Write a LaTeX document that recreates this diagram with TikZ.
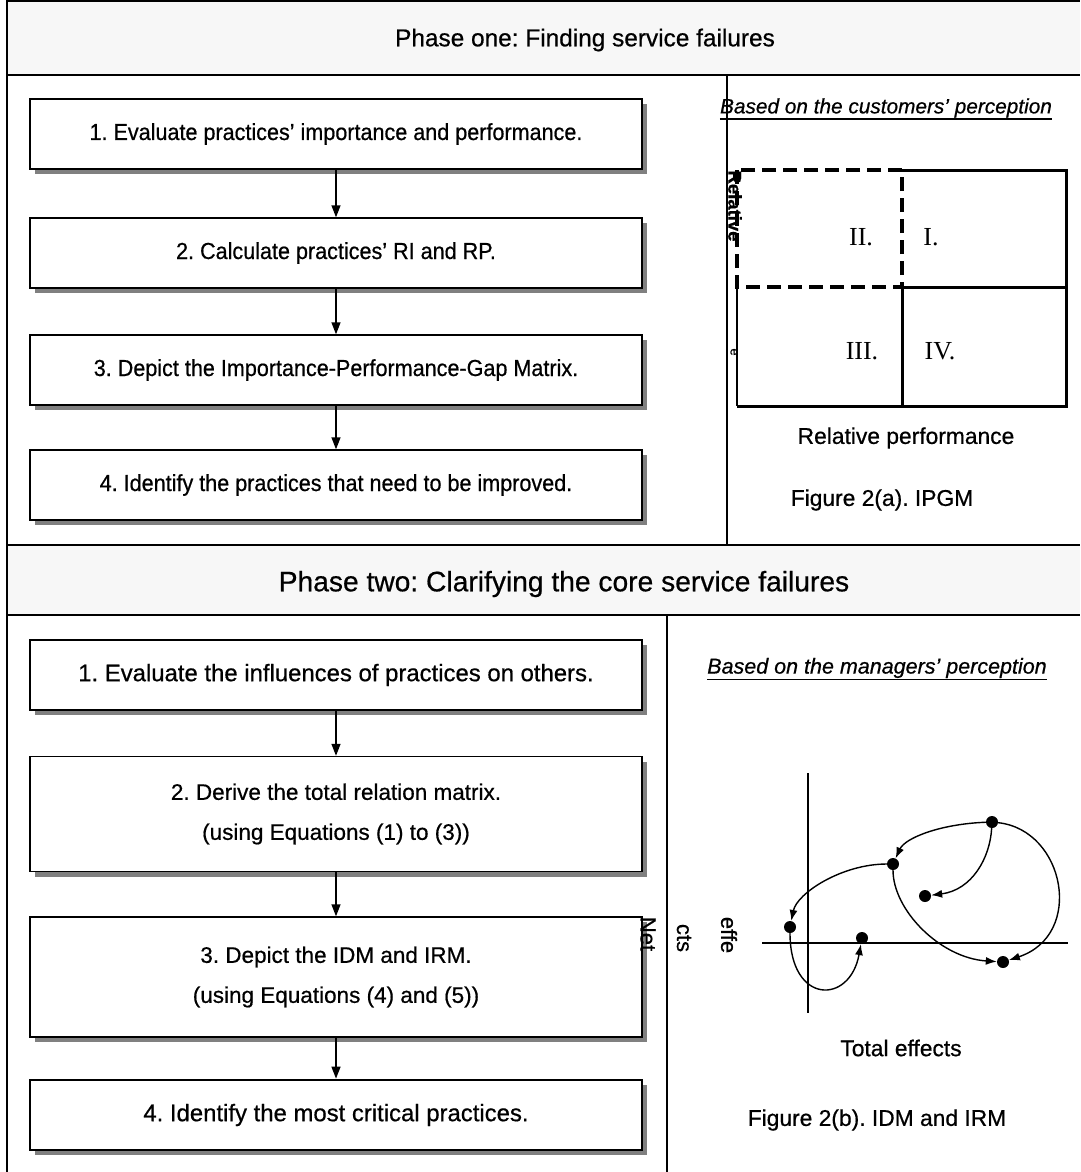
\documentclass[tikz,border=0pt]{standalone}
\usepackage{fontspec}
\setmainfont{Liberation Sans}[FakeBold=0.6]
\newfontfamily\nsans{Liberation Sans}[FakeBold=0.6,FakeStretch=0.93]
\newfontfamily\tnr{Liberation Serif}
\usetikzlibrary{arrows.meta,shadows}
\frenchspacing
\begin{document}
\begin{tikzpicture}[x=1pt,y=-1pt,
  frame/.style={line width=2pt},
  stepbox/.style={draw=black, line width=1.4pt, fill=white, inner sep=0pt, align=center,
    minimum width=612pt,
    drop shadow={shadow xshift=5pt, shadow yshift=-5pt, fill=black!50, opacity=1}},
  thickbox/.style={stepbox, line width=2.8pt},
  onefont/.style={font=\nsans\fontsize{23.2}{26}\selectfont},
  twofont/.style={font=\fontsize{22.5}{40}\selectfont},
  bigfont/.style={font=\fontsize{23.9}{28}\selectfont},
  flow/.style={-{Triangle[length=12pt,width=9pt]}, line width=1.4pt},
  link/.style={-{Latex[length=11pt,width=8pt]}, line width=1.4pt},
  dot/.style={circle, fill=black, inner sep=0pt, minimum size=12pt},
  label/.style={font=\fontsize{22.8}{26}\selectfont},
  quad/.style={font=\tnr\fontsize{26}{28}\selectfont},
  rot/.style={rotate=-90, font=\fontsize{22}{24}\selectfont}
]
\useasboundingbox (0,0) rectangle (1080,1172);
\fill[white] (0,0) rectangle (1080,1172);

% headers
\fill[black!3] (7,1) rectangle (1080,75);
\fill[black!3] (7,545) rectangle (1080,615);
\draw[frame] (7,1) -- (1080,1);
\draw[frame] (7,0) -- (7,1172);
\draw[frame] (7,75) -- (1080,75);
\draw[line width=2.5pt] (7,545) -- (727,545);
\draw[line width=1.6pt] (727,545) -- (1080,545);
\draw[line width=1.6pt] (7,615) -- (1080,615);
\draw[frame] (727,75) -- (727,545);
\draw[line width=1.6pt] (667,615) -- (667,1172);

\node[font=\fontsize{24.4}{28}\selectfont] (h1) at (585,40) {Phase one: Finding service failures};
\node[font=\fontsize{28.2}{32}\selectfont] (h2) at (564,584) {Phase two: Clarifying the core service failures};

% phase one steps
\node[stepbox, onefont, minimum height=70pt] (a1) at (336,134) {1. Evaluate practices’ importance and performance.};
\node[stepbox, onefont, minimum height=70pt] (a2) at (336,253) {2. Calculate practices’ RI and RP.};
\node[stepbox, onefont, minimum height=70pt] (a3) at (336,370) {3. Depict the Importance-Performance-Gap Matrix.};
\node[stepbox, onefont, minimum height=70pt] (a4) at (336,485) {4. Identify the practices that need to be improved.};
\draw[flow] (a1.south) -- (a2.north);
\draw[flow] (a2.south) -- (a3.north);
\draw[flow] (a3.south) -- (a4.north);

% phase two steps
\node[thickbox, bigfont, minimum height=70pt] (b1) at (336,675) {1. Evaluate the influences of practices on others.};
\node[stepbox, twofont, minimum height=115pt] (b2) at (336,814) {2. Derive the total relation matrix.\\(using Equations (1) to (3))};
\node[stepbox, twofont, minimum height=120pt] (b3) at (336,977) {3. Depict the IDM and IRM.\\(using Equations (4) and (5))};
\node[thickbox, bigfont, minimum height=70pt] (b4) at (336,1115) {4. Identify the most critical practices.};
\draw[flow] (b1.south) -- (b2.north);
\draw[flow] (b2.south) -- (b3.north);
\draw[flow] (b3.south) -- (b4.north);

% IPGM
\node[font=\itshape\fontsize{20.8}{24}\selectfont, inner sep=0pt] (cust) at (886,108) {Based on the customers’ perception};
\draw[line width=1.8pt] ([yshift=-6pt]cust.base west) -- ([yshift=-6pt]cust.base east);
\node[rotate=-90, font=\bfseries\fontsize{18.5}{20}\selectfont] (ri) at (735,206) {Relative};
\node[rotate=-90, font=\fontsize{13}{14}\selectfont] (ri2) at (734,352) {e};
\draw[line width=3pt] (902,170) -- (1066,170) -- (1066,406) -- (737,406);
\draw[line width=3pt] (902,287) -- (1066,287);
\draw[line width=3pt] (902,287) -- (902,406);
\draw[line width=1.5pt] (737,287) -- (737,406);
\draw[line width=4.5pt, dash pattern=on 14pt off 7pt] (737,170) rectangle (902,287);
\node[quad] (q2) at (861,237) {II.};
\node[quad] (q1) at (931,237) {I.};
\node[quad] (q3) at (862,351) {III.};
\node[quad] (q4) at (940,351) {IV.};
\node[label] (rp) at (906,438) {Relative performance};
\node[label] (fa) at (882,500) {Figure 2(a). IPGM};

% IDM / IRM
\node[font=\itshape\fontsize{21.5}{24}\selectfont, inner sep=0pt] (mgr) at (877,668) {Based on the managers’ perception};
\draw[line width=1.8pt] ([yshift=-6pt]mgr.base west) -- ([yshift=-6pt]mgr.base east);
\draw[line width=1.4pt] (808,773) -- (808,1013);
\draw[line width=1.4pt] (762,943) -- (1068,943);
\node[dot] (pA) at (992,822) {};
\node[dot] (pB) at (893,864) {};
\node[dot] (pC) at (925,896) {};
\node[dot] (pD) at (790,927) {};
\node[dot] (pE) at (862,938) {};
\node[dot] (pF) at (1003,962) {};
\draw[link] (pA) .. controls (940,824) and (905,838) .. (pB);
\draw[link] (pA) .. controls (990,858) and (972,890) .. (pC);
\draw[link] (pA) .. controls (1065,830) and (1085,935) .. (pF);
\draw[link] (pB) .. controls (842,864) and (797,893) .. (pD);
\draw[link] (pB) .. controls (893,910) and (940,958) .. (pF);
\draw[link] (pD) .. controls (790,1005) and (850,1005) .. (pE);
\node[rot] (ne1) at (648,934) {Net};
\node[rot] (ne2) at (684,938) {cts};
\node[rot] (ne3) at (729,935) {effe};
\node[label] (te) at (901,1048) {Total effects};
\node[label] (fb) at (877,1120) {Figure 2(b). IDM and IRM};
\end{tikzpicture}
\end{document}
